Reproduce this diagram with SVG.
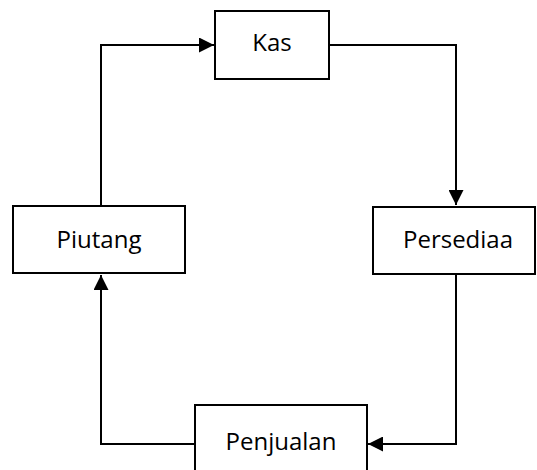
<svg xmlns="http://www.w3.org/2000/svg" width="537" height="470" viewBox="0 0 537 470">
<defs>
<style>
.box{fill:#fff;stroke:#000;stroke-width:2}
.lbl{font-family:"Open Sans","Liberation Sans",sans-serif;font-size:24px;fill:#000;text-anchor:middle}
.con{fill:none;stroke:#000;stroke-width:2}
</style>
<marker id="ah" viewBox="0 0 10 10" refX="10" refY="5" markerWidth="7.5" markerHeight="7.5" markerUnits="strokeWidth" orient="auto">
<path d="M0,0 L10,5 L0,10 Z" fill="#000"/>
</marker>
</defs>
<g id="connectors">
<path class="con" d="M330,45 H456 V205" marker-end="url(#ah)"/>
<path class="con" d="M456,275 V444 H368" marker-end="url(#ah)"/>
<path class="con" d="M195,444 H101 V275" marker-end="url(#ah)"/>
<path class="con" d="M101,206 V45 H214" marker-end="url(#ah)"/>
</g>
<g id="kas">
<rect class="box" x="215" y="11" width="114" height="68"/>
<text class="lbl" x="272" y="51">Kas</text>
</g>
<g id="persediaan">
<rect class="box" x="373" y="207" width="162" height="67"/>
<text class="lbl" x="458" y="248">Persediaa</text>
</g>
<g id="piutang">
<rect class="box" x="13" y="206" width="172" height="67"/>
<text class="lbl" x="99" y="248">Piutang</text>
</g>
<g id="penjualan">
<rect class="box" x="195" y="405" width="172" height="80"/>
<text class="lbl" x="281" y="450">Penjualan</text>
</g>
</svg>
